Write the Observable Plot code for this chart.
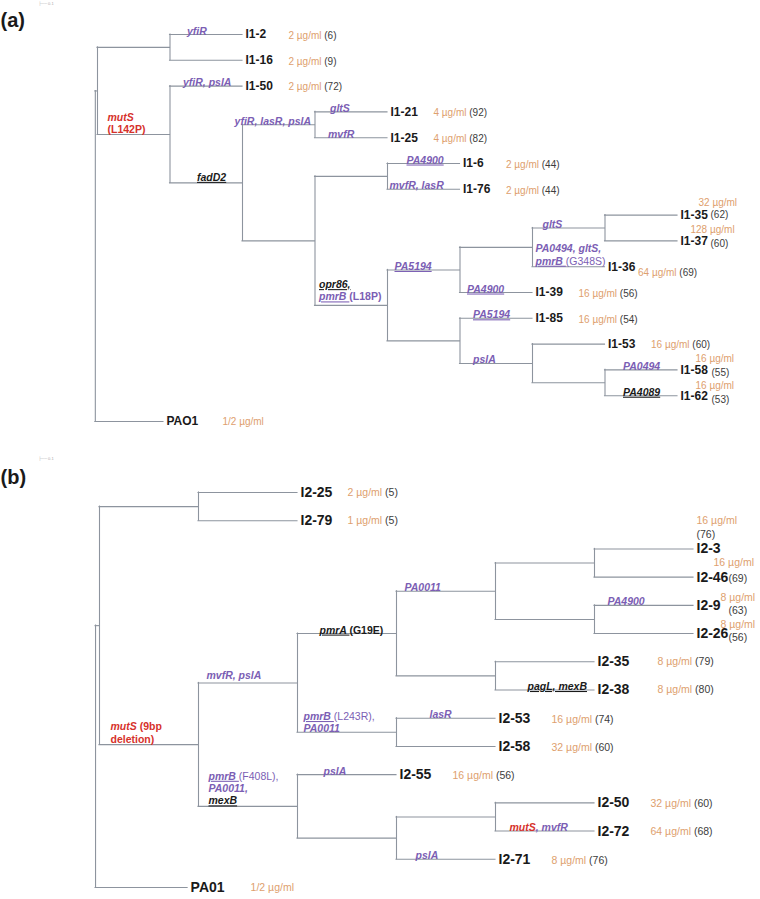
<!DOCTYPE html>
<html><head><meta charset="utf-8">
<script src="https://cdn.jsdelivr.net/npm/d3@7"></script>
<script src="https://cdn.jsdelivr.net/npm/@observablehq/plot@0.6"></script>
<style>body{margin:0;background:#fff;} svg{display:block;}</style>
</head><body><div id="chart"></div>
<script>
// ===== Panel (a) data =====
// [node, parent, depth]
const treeA = [
  ["rootA", null, -0.03], ["A", "rootA", 0],
  ["A1", "A", 1], ["I1-2", "A1", 2], ["I1-16", "A1", 2],
  ["A2", "A", 1], ["I1-50", "A2", 2], ["A3", "A2", 2],
  ["A4", "A3", 3], ["I1-21", "A4", 4], ["I1-25", "A4", 4],
  ["A5", "A3", 3], ["A6", "A5", 4], ["I1-6", "A6", 5], ["I1-76", "A6", 5],
  ["A7", "A5", 4], ["A8", "A7", 5], ["A9", "A8", 6], ["A10", "A9", 7],
  ["I1-35", "A10", 8], ["I1-37", "A10", 8], ["I1-36", "A9", 7], ["I1-39", "A8", 6],
  ["A11", "A7", 5], ["I1-85", "A11", 6], ["A12", "A11", 6], ["I1-53", "A12", 7],
  ["A13", "A12", 7], ["I1-58", "A13", 8], ["I1-62", "A13", 8],
  ["PAO1", "rootA", 0.91]
];
const leavesA = ["I1-2","I1-16","I1-50","I1-21","I1-25","I1-6","I1-76","I1-35","I1-37","I1-36","I1-39","I1-85","I1-53","I1-58","I1-62","PAO1"];
const micA = ["2 µg/ml","2 µg/ml","2 µg/ml","4 µg/ml","4 µg/ml","2 µg/ml","2 µg/ml","32 µg/ml","128 µg/ml","64 µg/ml","16 µg/ml","16 µg/ml","16 µg/ml","16 µg/ml","16 µg/ml","1/2 µg/ml"];
const countA = ["(6)","(9)","(72)","(92)","(82)","(44)","(44)","(62)","(60)","(69)","(56)","(54)","(60)","(55)","(53)",""];
// mutations on branches: [node, line1, line2...]  (flags: i italic, b bold, u underline, r red, k black)
const mutA = [
  ["I1-2", "ib:yfiR"],
  ["I1-50", "ib:yfiR, pslA"],
  ["A2", "ibr:mutS", "br:(L142P)"],
  ["A3", "ibuk:fadD2"],
  ["A4", "ib:yfiR, lasR, pslA"],
  ["I1-21", "ib:gltS"],
  ["I1-25", "ib:mvfR"],
  ["I1-6", "ibu:PA4900"],
  ["I1-76", "ib:mvfR, lasR"],
  ["A7", "ibuk:opr86,", "ibu:pmrB |b:(L18P)"],
  ["A8", "ibu:PA5194"],
  ["A10", "ib:gltS"],
  ["I1-36", "ib:PA0494, gltS,", "ibu:pmrB |n:(G348S)"],
  ["I1-39", "ibu:PA4900"],
  ["I1-85", "ibu:PA5194"],
  ["A12", "ib:pslA"],
  ["I1-58", "ib:PA0494"],
  ["I1-62", "ibuk:PA4089"]
];

// ===== Panel (b) data =====
const treeB = [
  ["rootB", null, -0.04], ["B", "rootB", 0],
  ["B1", "B", 1], ["I2-25", "B1", 2], ["I2-79", "B1", 2],
  ["B2", "B", 1], ["B3", "B2", 2], ["B4", "B3", 3], ["B5", "B4", 4],
  ["B6", "B5", 5], ["I2-3", "B6", 6], ["I2-46", "B6", 6],
  ["B7", "B5", 5], ["I2-9", "B7", 6], ["I2-26", "B7", 6],
  ["B8", "B4", 4], ["I2-35", "B8", 5], ["I2-38", "B8", 5],
  ["B9", "B3", 3], ["I2-53", "B9", 4], ["I2-58", "B9", 4],
  ["B10", "B2", 2], ["I2-55", "B10", 3], ["B11", "B10", 3],
  ["B12", "B11", 4], ["I2-50", "B12", 5], ["I2-72", "B12", 5], ["I2-71", "B11", 4],
  ["PA01", "rootB", 0.89]
];
const leavesB = ["I2-25","I2-79","I2-3","I2-46","I2-9","I2-26","I2-35","I2-38","I2-53","I2-58","I2-55","I2-50","I2-72","I2-71","PA01"];
const micB = ["2 µg/ml","1 µg/ml","16 µg/ml","16 µg/ml","8 µg/ml","8 µg/ml","8 µg/ml","8 µg/ml","16 µg/ml","32 µg/ml","16 µg/ml","32 µg/ml","64 µg/ml","8 µg/ml","1/2 µg/ml"];
const countB = ["(5)","(5)","(76)","(69)","(63)","(56)","(79)","(80)","(74)","(60)","(56)","(60)","(68)","(76)",""];
const mutB = [
  ["B2", "ibr:mutS|br: (9bp", "br:deletion)"],
  ["B3", "ib:mvfR, pslA"],
  ["B4", "ibuk:pmrA |bk:(G19E)"],
  ["B5", "ib:PA0011"],
  ["I2-9", "ib:PA4900"],
  ["I2-38", "ibuk:pagL, mexB"],
  ["B9", "ibu:pmrB |n:(L243R),", "ib:PA0011"],
  ["I2-53", "ib:lasR"],
  ["B10", "ibu:pmrB |n:(F408L),", "ib:PA0011,", "ibuk:mexB"],
  ["I2-55", "ib:pslA"],
  ["I2-72", "ibr:mutS|ib:, mvfR"],
  ["I2-71", "ib:pslA"]
];

// ===== styling / label placement (pixels) =====
const LINE = "#8d949e", PURPLE = "#7b5eb4", ORANGE = "#dea06e", RED = "#d6312b", BLACK = "#1a1a1a", GRAY = "#3c3c3c";
const FONT = "'Liberation Sans', Arial, Helvetica, sans-serif";

const mutPosA = {
  "I1-2": {dx: 17}, "I1-50": {dx: 13}, "A2": {dx: 10, dy: -1}, "A3": {dx: 27, dy: -2},
  "A4": {end: true, dx: -4}, "I1-21": {dx: 15}, "I1-25": {dx: 13}, "I1-6": {dx: 19},
  "I1-76": {dx: 2}, "A7": {dx: 4, dy: -5}, "A8": {dx: 7}, "A10": {dx: 10},
  "I1-36": {dx: 3, dy: -2}, "I1-39": {dx: 7}, "I1-85": {dx: 13}, "A12": {dx: 13},
  "I1-58": {dx: 18}, "I1-62": {dx: 18}
};
const mutPosB = {
  "B2": {dx: 11, dy: -2}, "B3": {dx: 8, dy: -4}, "B4": {dx: 22}, "B5": {dx: 8},
  "I2-9": {dx: 13}, "I2-38": {dx: 32}, "B9": {dx: 6}, "I2-53": {dx: 33},
  "B10": {dx: 10, dy: -2}, "I2-55": {dx: 26}, "I2-72": {dx: 14}, "I2-71": {dx: 19}
};
const leafPosA = {
  "PAO1": {mic: [59, 0]},
  "I1-35": {mic: [21, -12], count: [33, 0]},
  "I1-37": {mic: [13, -11], count: [33, 3]},
  "I1-36": {mic: [33, 6]},
  "I1-58": {mic: [18, -11], count: [34, 3]},
  "I1-62": {mic: [18, -10], count: [34, 4]}
};
const leafPosB = {
  "I2-25": {mic: [50, 0]}, "I2-79": {mic: [50, 0]},
  "I2-35": {mic: [63, 0]}, "I2-38": {mic: [63, 0]}, "PA01": {mic: [63, 0]},
  "I2-3": {mic: [3, -28], count: [3, -14]},
  "I2-46": {mic: [20, -15], count: [35, 1]},
  "I2-9": {mic: [27, -8], count: [35, 5]},
  "I2-26": {mic: [27, -9], count: [35, 4]}
};

function panel(cfg) {
  const nodes = new Map();
  for (const [id, parent, depth] of cfg.tree) nodes.set(id, {id, parent, depth, children: []});
  for (const n of nodes.values()) if (n.parent) nodes.get(n.parent).children.push(n);
  const row = new Map(cfg.leaves.map((l, i) => [l, i]));
  const root = nodes.get(cfg.tree[0][0]);
  (function setY(n) {
    if (!n.children.length) { n.y = row.get(n.id); return; }
    n.children.forEach(setY);
    const ys = n.children.map(c => c.y);
    n.y1 = d3.min(ys); n.y2 = d3.max(ys); n.y = (n.y1 + n.y2) / 2;
  })(root);
  const all = [...nodes.values()];
  const branches = all.filter(n => n.parent).map(n => ({y: n.y, x1: nodes.get(n.parent).depth, x2: n.depth}));
  const joints = all.filter(n => n.children.length);
  const leafNodes = cfg.leaves.map((l, i) => ({...nodes.get(l), mic: cfg.mic[i], count: cfg.count[i]}));

  const marks = [
    Plot.ruleY(branches, {y: "y", x1: "x1", x2: "x2", stroke: LINE, strokeWidth: 1.1, strokeLinecap: "square"}),
    Plot.ruleX(joints, {x: "depth", y1: "y1", y2: "y2", stroke: LINE, strokeWidth: 1.1, strokeLinecap: "square"}),
    Plot.text(leafNodes, {x: "depth", y: "y", text: "id", textAnchor: "start", dx: 3, fontSize: cfg.leafSize, fontWeight: "bold", fill: BLACK}),
    Plot.text([cfg.tag], {frameAnchor: "top-left", text: d => d, dx: 0, dy: cfg.tagY, textAnchor: "start", lineAnchor: "middle", fontSize: 20, fontWeight: "bold", fill: BLACK}),
    Plot.text(["├── 0.1"], {frameAnchor: "top-left", text: d => d, dx: 38, dy: cfg.barY, textAnchor: "start", lineAnchor: "middle", fontSize: 4, fill: "#aaa"})
  ];
  for (const d of leafNodes) {
    const p = cfg.leafPos[d.id] || {};
    const [mdx, mdy] = p.mic || [cfg.micDx, 1];
    if (p.count) {
      marks.push(Plot.text([d], {x: "depth", y: "y", text: () => "o:" + d.mic, dx: mdx, dy: mdy, textAnchor: "start", fontSize: cfg.micSize}));
      marks.push(Plot.text([d], {x: "depth", y: "y", text: () => "g:" + d.count, dx: p.count[0], dy: p.count[1], textAnchor: "start", fontSize: cfg.micSize}));
    } else {
      marks.push(Plot.text([d], {x: "depth", y: "y", text: () => "o:" + d.mic + (d.count ? "|g: " + d.count : ""), dx: mdx, dy: mdy, textAnchor: "start", fontSize: cfg.micSize}));
    }
  }
  for (const [id, ...lines] of cfg.muts) {
    const n = nodes.get(id), par = nodes.get(n.parent);
    const pos = cfg.mutPos[id] || {dx: 10};
    lines.forEach((ln, i) => {
      marks.push(Plot.text([n], {
        x: d => pos.end ? d.depth : par.depth, y: "y", text: () => ln,
        dx: pos.dx, dy: (pos.dy || 0) - (lines.length - 1 - i) * 12.3,
        textAnchor: pos.end ? "end" : "start", lineAnchor: "bottom", fontSize: 10.5
      }));
    });
  }
  const svg = Plot.plot({
    width: 760, height: cfg.height, margin: 0,
    x: {domain: cfg.xDomain, range: cfg.xRange, axis: null},
    y: {domain: [0, cfg.leaves.length - 1], range: cfg.yRange, axis: null},
    style: {fontFamily: FONT, background: "#fff", overflow: "visible", whiteSpace: "pre"},
    marks
  });
  restyle(svg);
  return svg;
}

function restyle(svg) {
  d3.select(svg).selectAll("text").each(function () {
    const s = this.textContent;
    if (!/^[a-z]+:/.test(s)) return;
    this.textContent = "";
    for (const seg of s.split("|")) {
      const k = seg.indexOf(":");
      const f = seg.slice(0, k), t = seg.slice(k + 1);
      const ts = d3.select(this).append("tspan").text(t)
        .attr("font-style", f.includes("i") ? "italic" : "normal")
        .attr("font-weight", f.includes("b") ? "bold" : "normal")
        .attr("fill", f.includes("r") ? RED : f.includes("k") ? BLACK : f.includes("o") ? ORANGE : f.includes("g") ? GRAY : PURPLE);
      if (f.includes("u")) ts.style("text-decoration", "underline");
    }
  });
}

const chart = document.getElementById("chart");
chart.appendChild(panel({
  tree: treeA, leaves: leavesA, mic: micA, count: countA, muts: mutA, mutPos: mutPosA, leafPos: leafPosA,
  xDomain: [0, 8], xRange: [97, 677], yRange: [34, 421], height: 445,
  leafSize: 12, micSize: 10, micDx: 46, tag: "(a)", tagY: 20, barY: 3
}));
chart.appendChild(panel({
  tree: treeB, leaves: leavesB, mic: micB, count: countB, muts: mutB, mutPos: mutPosB, leafPos: leafPosB,
  xDomain: [0, 6], xRange: [99, 693], yRange: [47, 442], height: 454,
  leafSize: 14, micSize: 10.5, micDx: 56, tag: "(b)", tagY: 32, barY: 13
}));
</script>
</body></html>
